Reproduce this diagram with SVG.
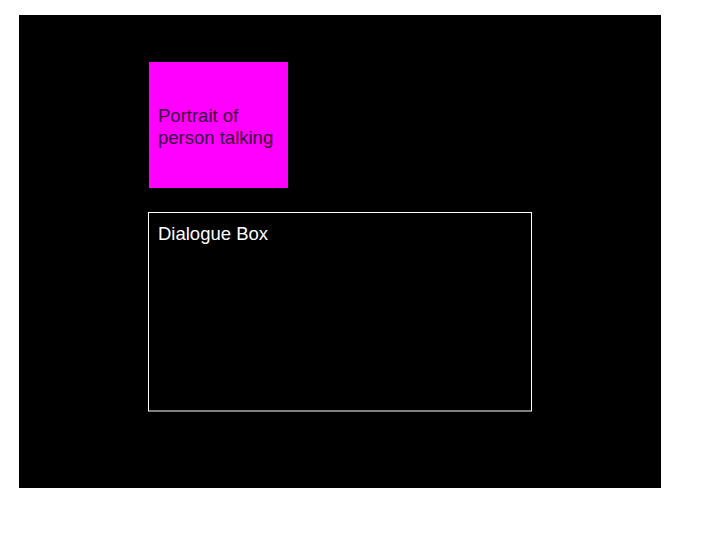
<svg xmlns="http://www.w3.org/2000/svg" width="720" height="540" viewBox="0 0 720 540">
<style>
text{font-family:"Liberation Sans",Arial,sans-serif;font-size:18.5px}
.portrait-text{fill:#3a003a}
.dialogue-text{fill:#ffffff}
</style>
<rect x="0" y="0" width="720" height="540" fill="#ffffff"/>
<rect id="screen" x="19" y="15" width="642" height="473" fill="#000000"/>
<g id="portrait">
<rect x="149" y="62" width="139" height="126" fill="#ff00ff"/>
<text class="portrait-text" x="158" y="122">Portrait of</text>
<text class="portrait-text" x="158" y="144">person talking</text>
</g>
<g id="dialogue">
<rect x="148.5" y="212.5" width="383" height="198.5" fill="none" stroke="#ffffff" stroke-width="1"/>
<text class="dialogue-text" x="158" y="240">Dialogue Box</text>
</g>
<g id="connectors"/>
</svg>
